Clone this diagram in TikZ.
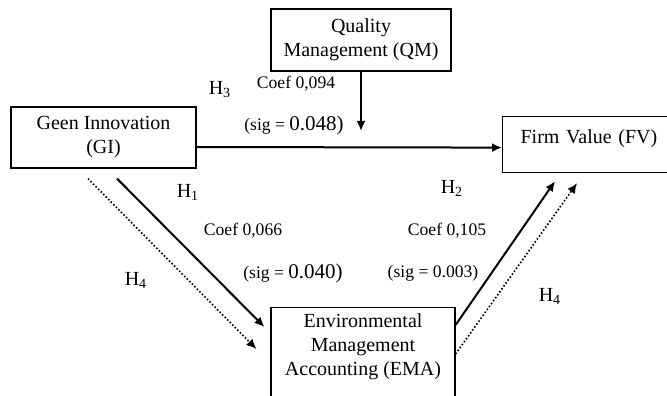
\documentclass[tikz,border=0pt]{standalone}
\usepackage{fontspec}
\setmainfont{Liberation Serif}
\usetikzlibrary{arrows.meta}
\tikzset{
  construct/.style={draw, line width=0.6pt, align=center, inner sep=2pt},
  flowarrow/.style={-{Latex[length=5pt,width=4.5pt]}, line width=1pt},
  dotarrow/.style={-{Latex[length=5pt,width=4.5pt]}, line width=0.8pt, densely dotted},
  coeflabel/.style={font=\fontsize{8.8}{10}\selectfont, inner sep=0pt},
  hlabel/.style={font=\fontsize{10}{12}\selectfont, inner sep=0pt}
}
\newcommand{\bigsig}[1]{{\fontsize{10.5}{12}\selectfont #1}}

\begin{document}
\begin{tikzpicture}[x=0.5pt, y=-0.5pt]
  \path[use as bounding box, clip] (0,0) rectangle (667,395);

  % constructs
  \node[construct, minimum width=90pt, minimum height=31pt] (qm) at (361,40) {Quality\\Management (QM)};
  \node[construct, minimum width=92.5pt, minimum height=30.5pt] (gi) at (103.5,137.5) {Geen Innovation\\(GI)};
  \node[construct, anchor=north west, minimum height=28pt, text width=80pt, align=left,
        inner xsep=9pt, text depth=8.5pt] (fv) at (502,116) {Firm Value (FV)};
  \node[construct, anchor=north, minimum width=92pt, inner ysep=3pt, text depth=14pt] (ema) at (363,307)
       {Environmental\\Management\\Accounting (EMA)};
  \coordinate (qmend) at (361,131);

  % paths
  \draw[flowarrow] (qm.south) -- (qmend);
  \draw[flowarrow] ([yshift=-4.75pt]gi.east) -- ([yshift=-1.5pt]fv.west);
  \draw[flowarrow] ([xshift=6.75pt, yshift=-5pt]gi.south) -- ([xshift=-3pt, yshift=-10pt]ema.north west);
  \draw[dotarrow] ([xshift=-7.75pt, yshift=-5pt]gi.south) -- ([xshift=-7pt, yshift=-21pt]ema.north west);
  \draw[flowarrow] ([yshift=-9pt]ema.north east) -- ([xshift=26.5pt, yshift=-4pt]fv.south west);
  \draw[dotarrow] ([yshift=-23.5pt]ema.north east) -- ([xshift=37.5pt, yshift=-5pt]fv.south west);

  % hypotheses and estimates
  \node[hlabel] (h3) at (220,90) {H\textsubscript{3}};
  \node[hlabel] (h1) at (188,192) {H\textsubscript{1}};
  \node[hlabel] (h2) at (452,188) {H\textsubscript{2}};
  \node[hlabel] (h4a) at (136,280) {H\textsubscript{4}};
  \node[hlabel] (h4b) at (550,296) {H\textsubscript{4}};
  \node[coeflabel] (coefqm) at (296,84) {Coef 0,094};
  \node[coeflabel] (sigqm) at (294,125) {(sig = \bigsig{0.048)}};
  \node[coeflabel] (coefgi) at (243,231) {Coef 0,066};
  \node[coeflabel] (siggi) at (293,273) {(sig = \bigsig{0.040)}};
  \node[coeflabel] (coefema) at (447,231) {Coef 0,105};
  \node[coeflabel] (sigema) at (433,273) {(sig = 0.003)};
\end{tikzpicture}
\end{document}
